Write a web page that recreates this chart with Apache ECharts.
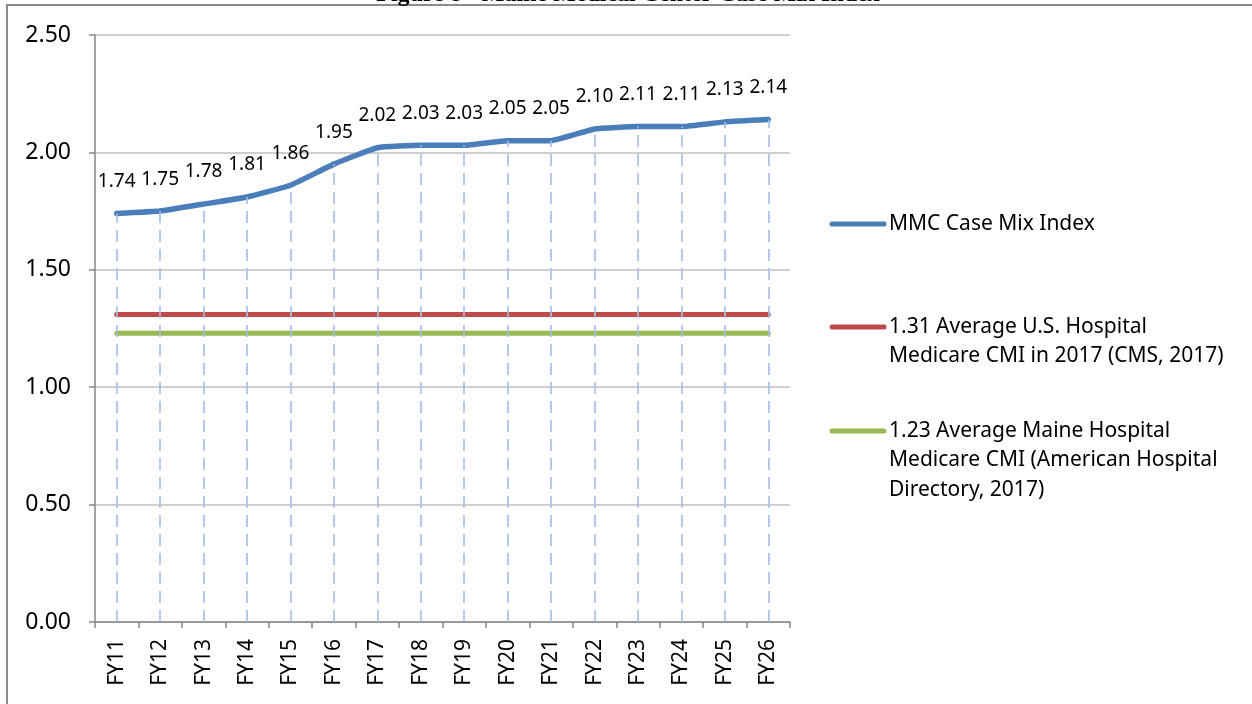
<!DOCTYPE html>
<html>
<head>
<meta charset="utf-8">
<script src="https://cdn.jsdelivr.net/npm/echarts@6/dist/echarts.min.js"></script>
<style>
  html, body { margin: 0; padding: 0; background: #fff; }
  #chart { width: 1252px; height: 704px; }
</style>
</head>
<body>
<div id="chart"></div>
<script>
// categories (fiscal years)
const years = ['FY11', 'FY12', 'FY13', 'FY14', 'FY15', 'FY16', 'FY17', 'FY18', 'FY19', 'FY20', 'FY21', 'FY22', 'FY23', 'FY24', 'FY25', 'FY26']
// MMC case mix index
const mmcCmi = [1.74, 1.75, 1.78, 1.81, 1.86, 1.95, 2.02, 2.03, 2.03, 2.05, 2.05, 2.10, 2.11, 2.11, 2.13, 2.14]
// benchmarks (flat lines)
const usAvg = [1.31, 1.31, 1.31, 1.31, 1.31, 1.31, 1.31, 1.31, 1.31, 1.31, 1.31, 1.31, 1.31, 1.31, 1.31, 1.31]
const maineAvg = [1.23, 1.23, 1.23, 1.23, 1.23, 1.23, 1.23, 1.23, 1.23, 1.23, 1.23, 1.23, 1.23, 1.23, 1.23, 1.23]
const yTicks = [0, 0.5, 1.0, 1.5, 2.0, 2.5]
const seriesNames = [
  'MMC Case Mix Index',
  '1.31 Average U.S. Hospital\nMedicare CMI in 2017 (CMS, 2017)',
  '1.23 Average Maine Hospital\nMedicare CMI (American Hospital\nDirectory, 2017)'
]
const colors = ['#4a7ebb', '#be4b48', '#98b954']

const font = '"Noto Sans", sans-serif'

// legend drawn by hand so the swatch sits on the first text line
const legendTops = [224, 327, 431]
const legendItems = []
seriesNames.forEach(function (name, i) {
  legendItems.push({
    type: 'line',
    shape: { x1: 832, y1: legendTops[i], x2: 884, y2: legendTops[i] },
    style: { stroke: colors[i], lineWidth: 5, lineCap: 'round' }
  })
  legendItems.push({
    type: 'text',
    x: 889,
    y: legendTops[i] - 15,
    style: {
      text: name,
      font: '21px ' + font,
      fill: '#000',
      lineHeight: 29.5,
      verticalAlign: 'top'
    }
  })
})

const chart = echarts.init(document.getElementById('chart'))
const option = {
  animation: false,
  backgroundColor: '#fff',
  grid: {
    left: 95,
    right: 462,
    top: 35,
    bottom: 82
  },
  xAxis: {
    type: 'category',
    data: years,
    boundaryGap: true,
    axisLine: { lineStyle: { color: '#868686', width: 1.5 } },
    axisTick: { show: true, length: 6, lineStyle: { color: '#868686', width: 1.5 } },
    axisLabel: {
      rotate: 90,
      margin: 17,
      fontSize: 21,
      fontFamily: font,
      color: '#000'
    }
  },
  yAxis: {
    type: 'value',
    min: yTicks[0],
    max: yTicks[yTicks.length - 1],
    interval: 0.5,
    axisLine: { show: true, lineStyle: { color: '#868686', width: 1.5 } },
    axisTick: { show: true, length: 6, lineStyle: { color: '#868686', width: 1.5 } },
    splitLine: { lineStyle: { color: '#bfbfbf', width: 1.5 } },
    axisLabel: {
      margin: 24,
      fontSize: 23,
      fontFamily: font,
      color: '#000',
      formatter: function (v) { return v.toFixed(2) }
    }
  },
  series: [
    {
      name: seriesNames[0],
      type: 'line',
      data: mmcCmi,
      smooth: 0.12,
      symbol: 'circle',
      symbolSize: 1,
      z: 4,
      itemStyle: { color: colors[0] },
      lineStyle: { color: colors[0], width: 5.5, cap: 'round' },
      label: {
        show: true,
        position: 'top',
        distance: 22,
        fontSize: 19,
        fontFamily: font,
        color: '#000',
        formatter: function (p) { return p.value.toFixed(2) }
      },
      markLine: {
        silent: true,
        symbol: ['none', 'none'],
        label: { show: false },
        lineStyle: { color: '#a4bde6', width: 1.6, type: [12, 7] },
        data: mmcCmi.map(function (v, i) {
          return [{ coord: [i, 0] }, { coord: [i, v] }]
        })
      }
    },
    {
      name: seriesNames[1],
      type: 'line',
      data: usAvg,
      showSymbol: false,
      z: 3,
      lineStyle: { color: colors[1], width: 5, cap: 'round' }
    },
    {
      name: seriesNames[2],
      type: 'line',
      data: maineAvg,
      showSymbol: false,
      z: 3,
      lineStyle: { color: colors[2], width: 5, cap: 'round' }
    }
  ],
  graphic: [
    {
      type: 'rect',
      shape: { x: 7, y: 5, width: 1400, height: 900 },
      style: { fill: null, stroke: '#8c8c8c', lineWidth: 2 },
      silent: true
    },
    {
      type: 'text',
      x: 628,
      y: 7,
      style: {
        text: 'Figure 8 - Maine Medical Center Case Mix Index',
        font: 'bold 24px "Liberation Serif", serif',
        fill: '#000',
        align: 'center',
        verticalAlign: 'bottom'
      }
    }
  ].concat(legendItems)
}
chart.setOption(option)
window.addEventListener('resize', function () { chart.resize() })
</script>
</body>
</html>
